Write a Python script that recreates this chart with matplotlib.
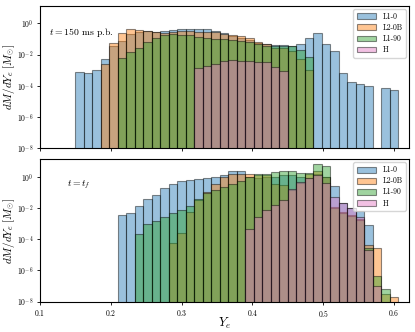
import numpy as np
import matplotlib
matplotlib.use("Agg")
import matplotlib.pyplot as plt
from matplotlib.ticker import FixedLocator, NullLocator

plt.rcParams['font.family'] = 'cmr10'
plt.rcParams['mathtext.fontset'] = 'cm'
plt.rcParams['axes.formatter.use_mathtext'] = True

# bin edges in Y_e
bin_start = 0.15
bin_width = 0.012
n_bins = 38
edges = bin_start + bin_width * np.arange(n_bins + 1)

labels = ["L1-0", "L2-0B", "L1-90", "H"]
colors = ["C0", "C1", "C2", "C6"]

# log10(dM/dYe) per bin, top panel (t = 150 ms p.b.); first bin index given
top_L10_start = 0
top_L10 = [-3.14, -3.17, -3.01, -2.31, -1.44, -1.13, -0.70, -0.56, -0.52, -0.56,
           -0.47, -0.43, -0.38, -0.35, -0.35, -0.37, -0.49, -0.64, -0.78, -0.94,
           -1.07, -1.24, -1.35, -1.37, -1.37, -1.45, -1.35, -0.96, -0.62, -1.35,
           -1.80, -3.19, -3.78, -3.91, -4.00, None, -4.17, -4.28]
top_L20B_start = 3
top_L20B = [-2.61, -1.28, -0.64, -0.37, -0.45, -0.49, -0.54, -0.60, -0.54, -0.50,
            -0.50, -0.55, -0.55, -0.58, -0.69, -0.73, -0.81, -0.96, -1.18, -1.31,
            -1.60, -1.60, -1.78, -2.31, -3.01]
top_L190_start = 5
top_L190 = [-2.24, -1.82, -1.60, -1.22, -0.96, -0.73, -0.69, -0.73, -0.77, -0.90,
            -0.96, -1.03, -1.03, -1.07, -1.11, -1.20, -1.35, -1.44, -1.44, -1.47,
            -1.47, -1.70, -2.14]
top_H_start = 14
top_H = [-2.85, -2.76, -2.59, -2.42, -2.33, -2.44, -2.42, -2.48, -2.50, -2.82, -3.08]

# bottom panel (t = t_f)
bot_L10_start = 5
bot_L10 = [-2.47, -2.33, -1.88, -1.43, -1.19, -0.74, -0.49, -0.29, -0.21, -0.15,
           -0.08, -0.02, 0.09, 0.34, 0.34, 0.00, -0.05, 0.00, 0.00, 0.10,
           0.10, 0.00, -0.10, 0.20, 0.00, -0.62, -1.67, -2.03, -2.22, -3.10]
bot_L20B_start = 11
bot_L20B = [-4.27, -3.60, -2.25, -1.50, -0.95, -0.44, 0.01, 0.16, 0.16, 0.20,
            0.10, 0.12, -0.45, -0.50, -0.85, -0.40, 0.15, 0.40, 0.00, -1.95,
            -2.24, -2.44, -2.69, -4.40, -4.57, -7.50, -7.67]
bot_L190_start = 7
bot_L190 = [-3.65, -3.05, -2.86, -2.56, -2.31, -2.11, -1.86, -1.45, -1.06, -0.85,
            -0.66, -0.44, -0.30, 0.00, 0.20, 0.16, 0.28, 0.36, 0.35, 0.23,
            0.27, 0.81, 0.70, -2.00, -2.30, -2.50, -2.75, -4.55, -6.35, -7.18]
bot_H_start = 20
bot_H = [-3.37, -2.56, -2.14, -1.79, -1.48, -0.79, -0.34, -0.05, 0.11, -0.42,
         -1.32, -1.67, -2.03, -2.56, -4.72, -7.00]

panel_texts = [r"$t=$150 ms p.b.", r"$t=t_f$"]
text_pos = [(0.025, 0.815), (0.072, 0.82)]


def to_weights(start, logs):
    w = np.zeros(n_bins)
    for i, v in enumerate(logs):
        if v is not None:
            w[start + i] = 10.0 ** v
    return w


top_series = [(top_L10_start, top_L10), (top_L20B_start, top_L20B),
              (top_L190_start, top_L190), (top_H_start, top_H)]
bot_series = [(bot_L10_start, bot_L10), (bot_L20B_start, bot_L20B),
              (bot_L190_start, bot_L190), (bot_H_start, bot_H)]

fig = plt.figure(figsize=(4.15, 3.32), dpi=100)
ax1 = fig.add_axes([0.0964, 0.5533, 0.8891, 0.4287])
ax2 = fig.add_axes([0.0964, 0.0913, 0.8891, 0.4287])

centers = 0.5 * (edges[:-1] + edges[1:])

for ax, series, txt, pos in zip([ax1, ax2], [top_series, bot_series], panel_texts, text_pos):
    for (start, logs), lab, col in zip(series, labels, colors):
        ax.hist(centers, bins=edges, weights=to_weights(start, logs), color=col,
                alpha=0.45, edgecolor='k', linewidth=0.8, label=lab, log=True)
    ax.set_yscale('log')
    ax.set_ylim(1e-8, 13)
    ax.set_xlim(0.1, 0.621)
    ax.yaxis.set_major_locator(FixedLocator([1e-8, 1e-6, 1e-4, 1e-2, 1e0]))
    ax.yaxis.set_minor_locator(NullLocator())
    ax.set_xticks([0.1, 0.2, 0.3, 0.4, 0.5, 0.6])
    ax.tick_params(labelsize=5.5, length=2.5, width=0.6, pad=2)
    ax.set_ylabel(r"$dM/dY_e\ [M_{\odot}]$", fontsize=8)
    ax.yaxis.set_label_coords(-0.061, 0.5)
    ax.text(pos[0], pos[1], txt, transform=ax.transAxes, fontsize=7,
            va='center', ha='left')
    ax.legend(loc='upper right', fontsize=5.5, frameon=True, framealpha=0.8,
              handlelength=2.6, handleheight=0.8, borderpad=0.45,
              labelspacing=0.35, borderaxespad=0.4)
    for s in ax.spines.values():
        s.set_linewidth(0.8)

ax1.tick_params(labelbottom=False)
ax2.set_xlabel(r"$Y_e$", fontsize=9)
ax2.xaxis.set_label_coords(0.5, -0.1)

fig.savefig("out.png", dpi=100)
